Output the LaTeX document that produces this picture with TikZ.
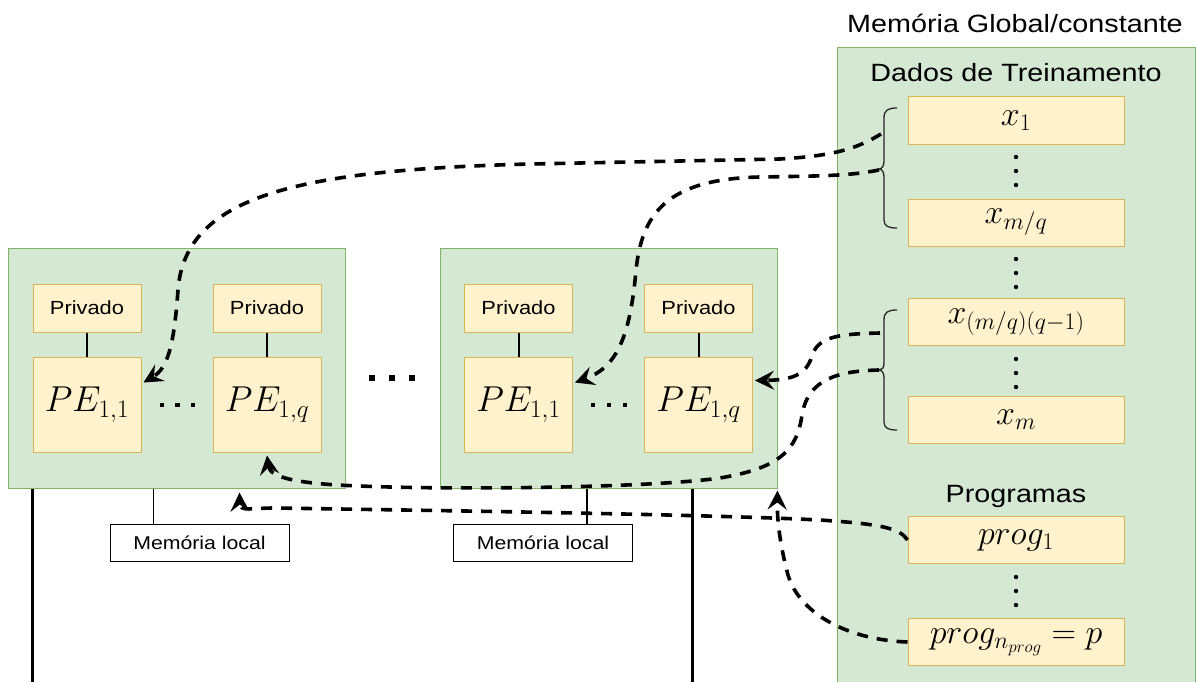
\RequirePackage{fix-cm}
\documentclass[tikz,border=0pt]{standalone}
\usepackage[no-math]{fontspec}
\setmainfont{Liberation Sans}[FakeStretch=1.15]
\usetikzlibrary{arrows.meta}
\definecolor{grnfill}{HTML}{D5E8D4}
\definecolor{grnline}{HTML}{82B366}
\definecolor{ylwfill}{HTML}{FFF2CC}
\definecolor{ylwline}{HTML}{D6B656}
\begin{document}
\begin{tikzpicture}[x=1pt,y=-1pt,
  grp/.style={draw=grnline,fill=grnfill,line width=1pt,inner sep=0pt},
  cell/.style={draw=ylwline,fill=ylwfill,line width=1pt,inner sep=0pt,
    minimum width=216pt,minimum height=47pt,font=\fontsize{34}{40}\selectfont},
  priv/.style={draw=ylwline,fill=ylwfill,line width=1pt,inner sep=0pt,
    minimum width=108pt,minimum height=48pt,font=\fontsize{19}{23}\selectfont},
  pe/.style={draw=ylwline,fill=ylwfill,line width=1pt,inner sep=0pt,
    minimum width=108pt,minimum height=95pt,font=\fontsize{36}{42}\selectfont},
  memloc/.style={draw=black,fill=white,line width=1pt,inner sep=0pt,
    minimum width=179pt,minimum height=37pt,font=\fontsize{18.5}{22}\selectfont},
  heading/.style={font=\fontsize{25}{30}\selectfont,anchor=base,inner sep=0pt},
  flow/.style={line width=3.6pt,dash pattern=on 11pt off 9pt,
    -{Stealth[length=19pt,width=19pt,inset=7pt]}},
  tie/.style={line width=2pt},
  bus/.style={line width=3pt},
  thinlink/.style={line width=1.5pt},
  bracepath/.style={line width=1.3pt,draw=black!85},
]
\fill[white] (0,0) rectangle (1196,682);
\useasboundingbox (0,0) rectangle (1196,682);

% global / constant memory column
\node[grp,minimum width=358pt,minimum height=652pt] (gmem) at (1016,374) {};
\node[heading] (title) at (1015,33) {Memória Global/constante};
\node[heading] (dados) at (1016,82) {Dados de Treinamento};
\node[cell] (x1)  at (1016,120.5) {$x_1$};
\node[cell] (xmq) at (1016,222.5) {$x_{m/q}$};
\node[cell] (xq)  at (1016,322)   {$x_{(m/q)(q-1)}$};
\node[cell] (xm)  at (1016,420)   {$x_m$};
\node[heading] (progs) at (1016,502) {Programas};
\node[cell] (prog1) at (1016,540) {$prog_1$};
\node[cell] (progn) at (1016,642) {$prog_{n_{prog}} = p$};

% vertical ellipses in the column
\foreach \y in {157,259,359,577}{
  \foreach \k in {0,14,28}{
    \fill (1016,\y+\k) circle (2.2pt);
  }
}

% braces grouping the training data
\draw[bracepath] (897,108) .. controls (888,108) and (884,110) .. (884,118) -- (884,161)
  .. controls (884,166) and (882,169) .. (879,169) .. controls (882,169) and (884,172) .. (884,177)
  -- (884,220) .. controls (884,226) and (888,228) .. (897,228);
\draw[bracepath] (897,310) .. controls (888,310) and (884,312) .. (884,320) -- (884,363)
  .. controls (884,368) and (882,370) .. (879,370) .. controls (882,370) and (884,373) .. (884,378)
  -- (884,422) .. controls (884,428) and (888,430) .. (897,430);
\coordinate (br1a) at (881,134);
\coordinate (br1tip) at (879,170);
\coordinate (br2a) at (880,333);
\coordinate (br2tip) at (879,370);

% processing blocks
\node[grp,minimum width=337pt,minimum height=240pt] (blk1) at (176.5,368) {};
\node[grp,minimum width=337pt,minimum height=240pt] (blk2) at (608.5,368) {};

\node[priv] (pv11) at (87,308)    {Privado};
\node[priv] (pv1q) at (267,308)   {Privado};
\node[pe]   (pe11) at (87,404.5)  {$PE_{1,1}$};
\node[pe]   (pe1q) at (267,404.5) {$PE_{1,q}$};
\node[priv] (pv21) at (518.5,308)   {Privado};
\node[priv] (pv2q) at (698.5,308)   {Privado};
\node[pe]   (pe21) at (518.5,404.5) {$PE_{1,1}$};
\node[pe]   (pe2q) at (698.5,404.5) {$PE_{1,q}$};

\draw[tie] (pv11) -- (pe11);
\draw[tie] (pv1q) -- (pe1q);
\draw[tie] (pv21) -- (pe21);
\draw[tie] (pv2q) -- (pe2q);

% horizontal ellipses
\foreach \x in {162,177.5,193,593,609,625}{
  \fill (\x-2.3,402.7) rectangle (\x+2.3,407.3);
}
\foreach \x in {372,392,412}{
  \fill (\x-2.8,375.2) rectangle (\x+2.8,380.8);
}

% local memories and buses
\node[memloc] (mem1) at (199.5,542.5) {Memória local};
\node[memloc] (mem2) at (543,542.5)   {Memória local};
\draw[thinlink] ([xshift=44pt]mem1.north west) -- ([xshift=44pt]mem1.north west |- blk1.south);
\draw[thinlink] ([xshift=134pt]mem2.north west) -- ([xshift=134pt]mem2.north west |- blk2.south);
\draw[bus] (blk1.south -| pv11.west) -- ++(0,200);
\draw[bus] ([xshift=-85pt]blk2.south east) -- ++(0,200);

% data transfers
\draw[flow] (br1a) .. controls (855,150) and (830,156) .. (780,159) -- (530,164)
  .. controls (300,170) and (185,195) .. (178,290)
  .. controls (174,345) and (168,368) .. ([xshift=2pt,yshift=22pt]pe11.east);
\draw[flow] (br1tip) .. controls (850,176) and (820,176) .. (760,177)
  .. controls (665,179) and (642,215) .. (636,270)
  .. controls (630,340) and (615,368) .. ([xshift=2pt,yshift=22pt]pe21.east);
\draw[flow] (br2a) .. controls (840,334) and (818,336) .. (812,356)
  .. controls (806,376) and (790,380) .. ([xshift=2pt,yshift=24pt]pe2q.east);
\draw[flow] (br2tip) .. controls (840,371) and (808,378) .. (802,415)
  .. controls (797,450) and (780,468) .. (720,478)
  .. controls (650,488) and (450,490) .. (360,486)
  .. controls (300,484) and (270,478) .. ([yshift=-3pt]pe1q.south);

% program transfers
\draw[flow] (prog1.west) .. controls (900,528) and (880,524) .. (820,520)
  .. controls (700,514) and (400,510) .. (275,508)
  .. controls (250,508) and (240,512) .. ([xshift=232pt,yshift=-4pt]blk1.south west);
\draw[flow] (progn.west) .. controls (850,640) and (800,615) .. (788,575)
  .. controls (780,545) and (777,520) .. ([yshift=-2pt]blk2.south east);
\end{tikzpicture}
\end{document}
